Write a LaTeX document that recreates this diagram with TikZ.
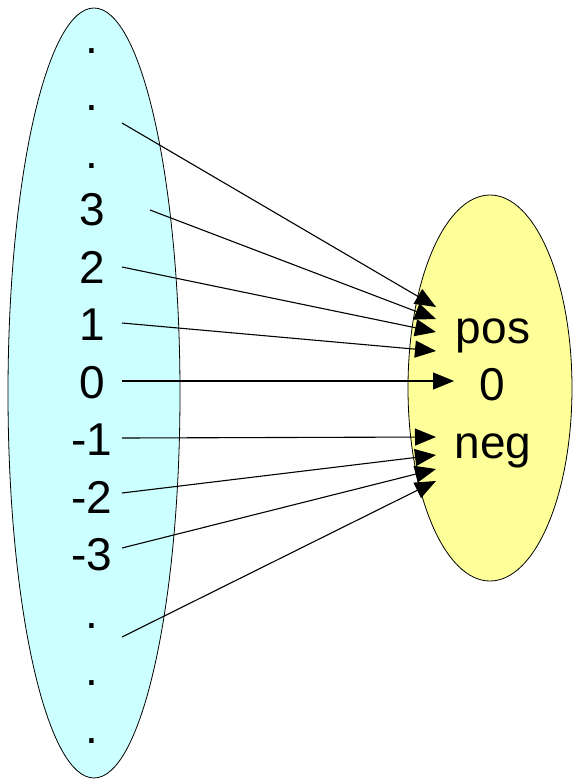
\documentclass[tikz,border=0pt]{standalone}
\usepackage{fontspec}
\setmainfont{Liberation Sans}
\usetikzlibrary{arrows.meta,shapes.geometric}
\definecolor{lcyan}{HTML}{CCFFFF}
\definecolor{lyellow}{HTML}{FFFF99}
\begin{document}
\begin{tikzpicture}[x=1pt,y=-1pt,
  lbl/.style={font=\fontsize{46}{50}\selectfont, anchor=base, inner sep=0pt},
  arr/.style={line width=1.1pt, -{Triangle[length=21pt,width=17pt]}},
  blob/.style={draw=black, line width=0.8pt}]
\useasboundingbox (0,0) rectangle (574,780);
\node[blob, fill=lcyan, ellipse, minimum width=172pt, minimum height=770pt, inner sep=0pt] (dom) at (94,393) {};
\node[blob, fill=lyellow, ellipse, minimum width=164pt, minimum height=386pt, inner sep=0pt] (cod) at (490,388) {};
\node[lbl] (d1) at (92,53) {.};
\node[lbl] (d2) at (92,110.5) {.};
\node[lbl] (d3) at (92,168) {.};
\node[lbl] (n3) at (92,225.5) {3};
\node[lbl] (n2) at (92,283) {2};
\node[lbl] (n1) at (92,340.5) {1};
\node[lbl] (n0) at (92,398) {0};
\node[lbl] (m1) at (92,455.5) {-1};
\node[lbl] (m2) at (92,513) {-2};
\node[lbl] (m3) at (92,570.5) {-3};
\node[lbl] (d4) at (92,628) {.};
\node[lbl] (d5) at (92,685.5) {.};
\node[lbl] (d6) at (92,743) {.};
\node[lbl] (pos) at (493,343) {pos};
\node[lbl] (zer) at (492,400) {0};
\node[lbl] (neg) at (493,458) {neg};
\coordinate (s1) at (122,123);
\coordinate (s2) at (150,210);
\coordinate (s3) at (122,267);
\coordinate (s4) at (122,323);
\coordinate (s5) at (122,381);
\coordinate (s6) at (122,438);
\coordinate (s7) at (122,493);
\coordinate (s8) at (122,548);
\coordinate (s9) at (122,637);
\coordinate (e1) at (436,307);
\coordinate (e2) at (436,319);
\coordinate (e3) at (436,332);
\coordinate (e4) at (436,351);
\coordinate (e5) at (454,381);
\coordinate (e6) at (436,437);
\coordinate (e7) at (436,455);
\coordinate (e8) at (436,469);
\coordinate (e9) at (436,481);
\foreach \i in {1,...,9} { \draw[arr] (s\i) -- (e\i); }
\end{tikzpicture}
\end{document}
